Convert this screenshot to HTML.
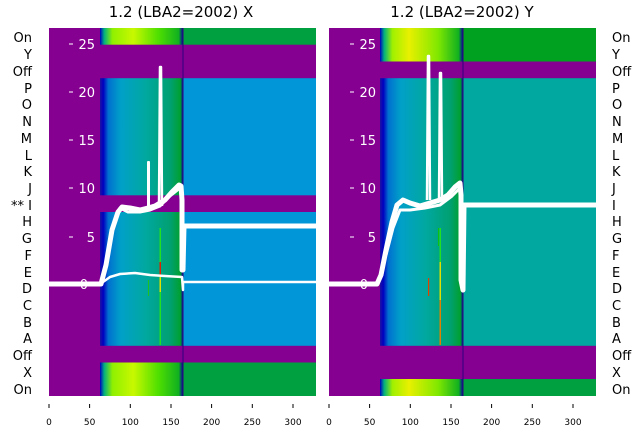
<!DOCTYPE html>
<html><head><meta charset="utf-8"><style>
body{margin:0;background:#fff;}
svg{display:block;font-family:"DejaVu Sans","Liberation Sans",sans-serif;}
</style></head><body>
<svg width="640" height="440" viewBox="0 0 640 440" xmlns="http://www.w3.org/2000/svg">
<defs>
<linearGradient id="dL" x1="100" x2="183" gradientUnits="userSpaceOnUse">
<stop offset="0" stop-color="#2010a0"/><stop offset="0.04" stop-color="#0000c0"/><stop offset="0.1" stop-color="#0070d0"/><stop offset="0.25" stop-color="#00a0c8"/><stop offset="0.55" stop-color="#00a8a0"/><stop offset="0.85" stop-color="#00a070"/><stop offset="0.97" stop-color="#00a030"/><stop offset="1" stop-color="#0000a0"/></linearGradient>
<linearGradient id="dR" x1="380" x2="463" gradientUnits="userSpaceOnUse">
<stop offset="0" stop-color="#2010a0"/><stop offset="0.04" stop-color="#0000c0"/><stop offset="0.1" stop-color="#0070d0"/><stop offset="0.25" stop-color="#00a0c8"/><stop offset="0.55" stop-color="#00a8a0"/><stop offset="0.85" stop-color="#00a070"/><stop offset="0.97" stop-color="#00a030"/><stop offset="1" stop-color="#0000a0"/></linearGradient>
<linearGradient id="yL" x1="100" x2="183" gradientUnits="userSpaceOnUse">
<stop offset="0" stop-color="#0000c0"/><stop offset="0.05" stop-color="#00b080"/><stop offset="0.15" stop-color="#90f000"/><stop offset="0.4" stop-color="#c8f800"/><stop offset="0.7" stop-color="#50e000"/><stop offset="0.95" stop-color="#10b020"/><stop offset="1" stop-color="#0000a0"/></linearGradient>
<linearGradient id="yR" x1="380" x2="463" gradientUnits="userSpaceOnUse">
<stop offset="0" stop-color="#0000c0"/><stop offset="0.05" stop-color="#00b080"/><stop offset="0.15" stop-color="#a0f000"/><stop offset="0.35" stop-color="#e8f000"/><stop offset="0.7" stop-color="#80e800"/><stop offset="0.95" stop-color="#10b020"/><stop offset="1" stop-color="#0000a0"/></linearGradient>
</defs>

<text x="181" y="17" font-size="15" text-anchor="middle" fill="#000">1.2 (LBA2=2002) X</text>
<text x="462" y="17" font-size="15" text-anchor="middle" fill="#000">1.2 (LBA2=2002) Y</text>

<rect x="49" y="28" width="267" height="368" fill="#850090"/>
<rect x="100" y="28" width="83" height="16.7" fill="url(#yL)"/>
<rect x="183" y="28" width="133" height="16.7" fill="#00a040"/>
<rect x="100" y="78.2" width="83" height="117.1" fill="url(#dL)"/>
<rect x="183" y="78.2" width="133" height="117.1" fill="#0096d8"/>
<rect x="100" y="212" width="83" height="133.8" fill="url(#dL)"/>
<rect x="183" y="212" width="133" height="133.8" fill="#0096d8"/>
<rect x="100" y="362.5" width="83" height="33.5" fill="url(#yL)"/>
<rect x="183" y="362.5" width="133" height="33.5" fill="#00a040"/>
<line x1="183" y1="28" x2="183" y2="396" stroke="#300080" stroke-width="1"/>
<rect x="159.5" y="228" width="1.5" height="117" fill="#20e020"/>
<rect x="159.5" y="262" width="1.5" height="30" fill="#e0e000"/>
<rect x="159.5" y="262" width="1.5" height="15" fill="#e02000"/>
<rect x="148" y="280" width="1" height="16" fill="#20c020"/>

<g fill="#fff" font-size="13" text-anchor="end">
<text x="95" y="49">25</text><text x="95" y="97">20</text><text x="95" y="145">15</text>
<text x="95" y="193">10</text><text x="95" y="242">5</text><text x="88" y="289">0</text>
</g>
<g stroke="#fff" stroke-width="1">
<line x1="69" y1="44" x2="73" y2="44"/><line x1="69" y1="92" x2="73" y2="92"/><line x1="69" y1="140" x2="73" y2="140"/><line x1="69" y1="188" x2="73" y2="188"/><line x1="69" y1="237" x2="73" y2="237"/>
</g>

<g fill="none" stroke="#fff" stroke-linejoin="round">
<polyline stroke-width="2.5" points="49,284 100,284 103,282 110,277 120,274 135,273 150,275 165,276 182,277 183,290 183,282 316,282"/>
<polyline stroke-width="5" points="49,284 101,284 106,265 112,230 118,212 122,207 130,208 140,210 148,208 155,206 165,200 172,192 179,185 181,186 182,200 182,270 183,270 184,226 316,226"/>
<polyline stroke-width="3" points="108,250 114,222 120,208 128,212 140,212 150,210 160,206 170,196 180,188"/>
<polyline stroke-width="2" points="148,208 148,162 149,162 149,208"/>
<polyline stroke-width="2.5" points="159,206 160,67 161,67 162,206"/>
</g>

<rect x="329" y="28" width="267" height="368" fill="#850090"/>
<rect x="380" y="28" width="83" height="33.5" fill="url(#yR)"/>
<rect x="463" y="28" width="133" height="33.5" fill="#00a020"/>
<rect x="380" y="78.2" width="83" height="267.6" fill="url(#dR)"/>
<rect x="463" y="78.2" width="133" height="267.6" fill="#00a8a0"/>
<rect x="380" y="379" width="83" height="17" fill="url(#yR)"/>
<rect x="463" y="379" width="133" height="17" fill="#00a040"/>
<line x1="463" y1="28" x2="463" y2="396" stroke="#300080" stroke-width="1"/>
<rect x="439.5" y="228" width="1.5" height="117" fill="#20e020"/>
<rect x="439.5" y="262" width="1.5" height="40" fill="#e0e000"/>
<rect x="439.5" y="300" width="1.5" height="45" fill="#e08000"/>
<rect x="428" y="278" width="1.2" height="18" fill="#e04000"/>
<rect x="438" y="228" width="1" height="18" fill="#10c010"/>

<g fill="#fff" font-size="13" text-anchor="end">
<text x="376" y="49">25</text><text x="376" y="97">20</text><text x="376" y="145">15</text>
<text x="376" y="193">10</text><text x="376" y="242">5</text><text x="368" y="289">0</text>
</g>
<g stroke="#fff" stroke-width="1">
<line x1="350" y1="44" x2="354" y2="44"/><line x1="350" y1="92" x2="354" y2="92"/><line x1="350" y1="140" x2="354" y2="140"/><line x1="350" y1="188" x2="354" y2="188"/><line x1="350" y1="237" x2="354" y2="237"/>
</g>

<g fill="none" stroke="#fff" stroke-linejoin="round">
<polyline stroke-width="5" points="329,284 377,284 381,275 386,250 392,222 397,205 403,200 410,203 420,206 430,203 440,200 448,195 455,187 460,183 461,195 461,280 463,290 464,205 596,205"/>
<polyline stroke-width="3" points="386,255 393,228 400,210 410,210 425,208 440,205 452,196 460,188"/>
<polyline stroke-width="2.5" points="427,200 428,56 429,56 430,200"/>
<polyline stroke-width="2.5" points="439,200 440,73 441,73 442,200"/>
</g>
<rect x="316" y="150" width="13" height="140" fill="#fff"/>

<g font-size="13" fill="#000">
<g text-anchor="end">
<text x="32" y="42">On</text><text x="32" y="59">Y</text><text x="32" y="76">Off</text><text x="32" y="93">P</text><text x="32" y="109">O</text><text x="32" y="126">N</text><text x="32" y="143">M</text><text x="32" y="160">L</text><text x="32" y="176">K</text><text x="32" y="193">J</text><text x="32" y="210">** I</text><text x="32" y="226">H</text><text x="32" y="243">G</text><text x="32" y="260">F</text><text x="32" y="277">E</text><text x="32" y="293">D</text><text x="32" y="310">C</text><text x="32" y="327">B</text><text x="32" y="343">A</text><text x="32" y="360">Off</text><text x="32" y="377">X</text><text x="32" y="394">On</text>
</g>
<g text-anchor="start">
<text x="612" y="42">On</text><text x="612" y="59">Y</text><text x="612" y="76">Off</text><text x="612" y="93">P</text><text x="612" y="109">O</text><text x="612" y="126">N</text><text x="612" y="143">M</text><text x="612" y="160">L</text><text x="612" y="176">K</text><text x="612" y="193">J</text><text x="612" y="210">I</text><text x="612" y="226">H</text><text x="612" y="243">G</text><text x="612" y="260">F</text><text x="612" y="277">E</text><text x="612" y="293">D</text><text x="612" y="310">C</text><text x="612" y="327">B</text><text x="612" y="343">A</text><text x="612" y="360">Off</text><text x="612" y="377">X</text><text x="612" y="394">On</text>
</g>
</g>

<g stroke="#000" stroke-width="1">
<line x1="49" y1="404" x2="49" y2="408"/><line x1="89.6" y1="404" x2="89.6" y2="408"/><line x1="130.3" y1="404" x2="130.3" y2="408"/><line x1="171" y1="404" x2="171" y2="408"/><line x1="211.6" y1="404" x2="211.6" y2="408"/><line x1="252.3" y1="404" x2="252.3" y2="408"/><line x1="293" y1="404" x2="293" y2="408"/>
<line x1="329" y1="404" x2="329" y2="408"/><line x1="369.6" y1="404" x2="369.6" y2="408"/><line x1="410.3" y1="404" x2="410.3" y2="408"/><line x1="451" y1="404" x2="451" y2="408"/><line x1="491.6" y1="404" x2="491.6" y2="408"/><line x1="532.3" y1="404" x2="532.3" y2="408"/><line x1="573" y1="404" x2="573" y2="408"/>
</g>
<g font-size="9" fill="#000" text-anchor="middle">
<text x="49" y="425">0</text><text x="89.6" y="425">50</text><text x="130.3" y="425">100</text><text x="171" y="425">150</text><text x="211.6" y="425">200</text><text x="252.3" y="425">250</text><text x="293" y="425">300</text>
<text x="329" y="425">0</text><text x="369.6" y="425">50</text><text x="410.3" y="425">100</text><text x="451" y="425">150</text><text x="491.6" y="425">200</text><text x="532.3" y="425">250</text><text x="573" y="425">300</text>
</g>
</svg>
</body></html>
